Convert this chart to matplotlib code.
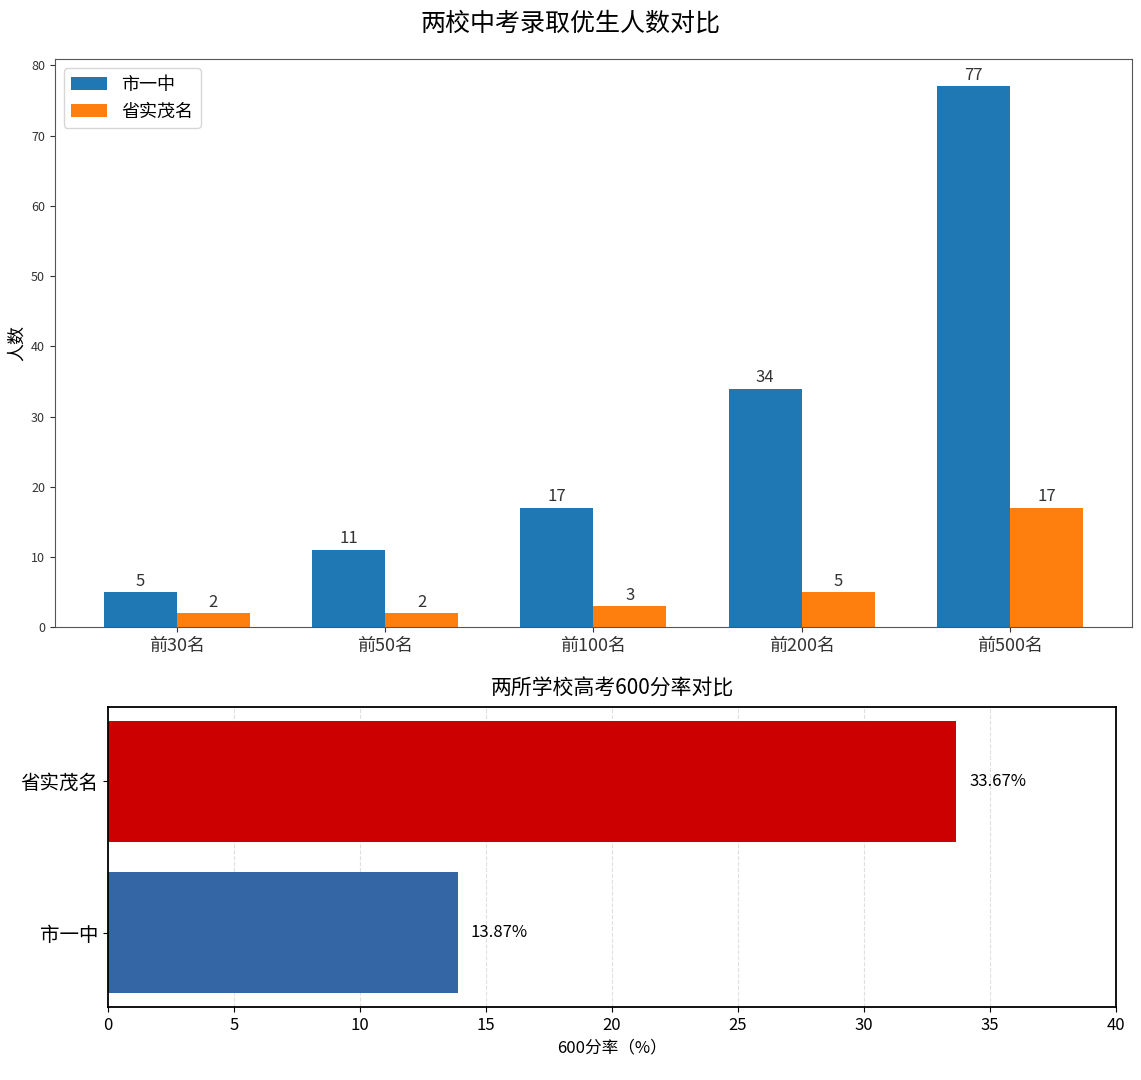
import numpy as np
from matplotlib import pyplot as plt

plt.rcParams['font.family'] = ['Noto Sans CJK SC', 'DejaVu Sans']
plt.rcParams['axes.unicode_minus'] = False

# 中考录取优生人数
ranks = ['前30名', '前50名', '前100名', '前200名', '前500名']
school_a = [5, 11, 17, 34, 77]
school_b = [2, 2, 3, 5, 17]
names = ['市一中', '省实茂名']

# 高考600分率
schools = ['市一中', '省实茂名']
rates = [13.87, 33.67]

fig = plt.figure(figsize=(11.41, 10.8), dpi=100)
fig.suptitle('两校中考录取优生人数对比', fontsize=18, y=0.99)

ax1 = fig.add_axes([0.048, 0.419, 0.944, 0.526])
x = np.arange(len(ranks))
w = 0.35
b1 = ax1.bar(x - w/2, school_a, w, label=names[0], color='#1f77b4')
b2 = ax1.bar(x + w/2, school_b, w, label=names[1], color='#ff7f0e')
for bars in (b1, b2):
    for r in bars:
        ax1.annotate(f'{int(r.get_height())}', (r.get_x() + r.get_width()/2, r.get_height()),
                     xytext=(0, 2), textcoords='offset points', ha='center', va='bottom',
                     fontsize=12, color='#333333')
ax1.set_xticks(x)
ax1.set_xticklabels(ranks, fontsize=13)
ax1.tick_params(axis='y', labelsize=9, colors='#333333')
ax1.tick_params(axis='x', colors='#333333')
ax1.set_ylabel('人数', fontsize=13)
for s in ax1.spines.values():
    s.set_color('#555555')
ax1.legend(fontsize=13, loc='upper left')

ax2 = fig.add_axes([0.0947, 0.0676, 0.8833, 0.2778])
colors = ['#3465a4', '#cc0000']
bars = ax2.barh(schools, rates, color=colors, height=0.8)
for r, v in zip(bars, rates):
    ax2.text(v + 0.5, r.get_y() + r.get_height()/2, f'{v:.2f}%', va='center', fontsize=12)
ax2.set_xlim(0, 40)
ax2.set_title('两所学校高考600分率对比', fontsize=15, pad=9)
ax2.set_xlabel('600分率（%）', fontsize=12)
ax2.tick_params(axis='y', labelsize=14)
ax2.tick_params(axis='x', labelsize=12)
ax2.grid(axis='x', linestyle='--', alpha=0.4)
ax2.set_axisbelow(True)
for s in ax2.spines.values():
    s.set_linewidth(1.3)

fig.savefig('out.png', dpi=100)
